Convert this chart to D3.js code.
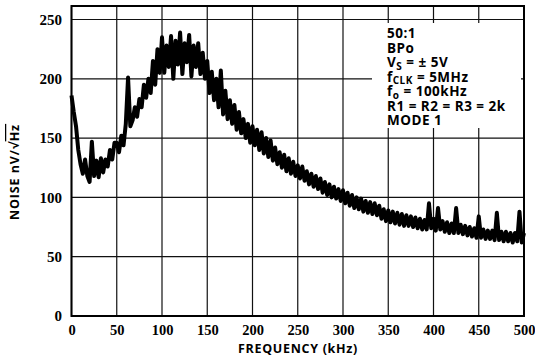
<!DOCTYPE html>
<html><head><meta charset="utf-8">
<script src="https://cdn.jsdelivr.net/npm/d3@7"></script>
<style>body{margin:0;background:#fff}svg{display:block}</style>
</head><body><svg id="c" width="535" height="361"></svg>
<script>
// ---- data ----
const freqStart = 0, freqEnd = 500, freqStep = 2.5; // kHz sampling grid
const noise = [
 186,172,160,140,128,120,132,118,113,147,118,131,117,133,121,132,126,140,132,146,
 146,138,152,144,162,201,160,165,176,168,183,176,195,184,200,188,215,195,225,205,
 235,205,228,210,236,200,232,212,239,204,230,214,237,202,228,210,230,204,222,200,
 215,188,206,182,200,176,207,170,190,166,182,162,178,157,172,154,166,150,162,146,
 160,144,157,140,155,137,150,134,148,131,142,128,138,125,136,122,133,120,130,118,
 127,116,126,114,122,111,120,109,118,107,116,104,113,102,111,100,109,99,107,97,
 106,95,104,93,102,91,100,90,99,88,97,87,96,86,95,85,93,82,90,80,
 89,79,88,78,87,77,86,76,85,76,84,75,83,74,82,73,81,73,95,74,
 82,72,91,73,80,71,79,70,78,70,91,70,77,69,76,68,75,67,74,66,
 84,66,73,65,72,65,72,64,87,64,71,63,71,63,70,62,70,63,88,62,70,64
];
const xTicks = [0,50,100,150,200,250,300,350,400,450,500];
const yTicks = [0,50,100,150,200,250];
const legendLines = [
  [["50:1",""]],
  [["BPo",""]],
  [["V",""],["S","sub"],[" =  ± 5V",""]],
  [["f",""],["CLK","sub"],[" = 5MHz",""]],
  [["f",""],["o","sub"],[" = 100kHz",""]],
  [["R1 = R2 = R3 = 2k",""]],
  [["MODE 1",""]]
];
const xTitle = "FREQUENCY (kHz)";

// ---- layout ----
const L = 71.5, R = 524, B = 316, T = 6;
const svg = d3.select("#c");
const x = d3.scaleLinear().domain([0,500]).range([L,R]);
const y = d3.scaleLinear().domain([0,250]).range([B,19.5]);
const freqs = d3.range(freqStart, freqEnd + freqStep/2, freqStep);
const pts = noise.map((v,i)=>[freqs[i], v]);

// grid
const grid = svg.append("g").attr("stroke","#111").attr("stroke-width",1.2);
grid.selectAll("line.v").data(xTicks).join("line")
  .attr("x1",d=>x(d)).attr("x2",d=>x(d)).attr("y1",T).attr("y2",B);
grid.selectAll("line.h").data(yTicks.filter(d=>d>0)).join("line")
  .attr("x1",L).attr("x2",R).attr("y1",d=>y(d)).attr("y2",d=>y(d));

// curve
svg.append("path").datum(pts)
  .attr("fill","none").attr("stroke","#000").attr("stroke-width",4)
  .attr("stroke-linejoin","round")
  .attr("d", d3.line().x(d=>x(d[0])).y(d=>y(d[1])));

// legend box
svg.append("rect").attr("x",372).attr("y",23).attr("width",149).attr("height",105).attr("fill","#fff");
const lg = svg.append("g").attr("font-family","'Open Sans', sans-serif").attr("font-weight",700)
  .attr("font-size",13.5).attr("letter-spacing",0.5).attr("fill","#000");
legendLines.forEach((parts,i)=>{
  const t = lg.append("text").attr("x",387).attr("y",38 + i*14.5);
  parts.forEach(([s,k],j)=>{
    const ts = t.append("tspan").text(s);
    if(k==="sub") ts.attr("font-size",10).attr("dy",2.5);
    else if(j>0) ts.attr("dy",-2.5);
  });
});

// frame
svg.append("rect").attr("x",L).attr("y",T).attr("width",R-L).attr("height",B-T)
  .attr("fill","none").attr("stroke","#000").attr("stroke-width",2);

// axes (labels only)
const ax = svg.append("g").attr("transform",`translate(0,${B})`)
  .call(d3.axisBottom(x).tickValues(xTicks).tickSize(0).tickPadding(0).tickFormat(d3.format("d")));
ax.select(".domain").remove();
ax.selectAll("text").attr("y",19).attr("dy",0)
  .attr("font-family","'Liberation Serif', serif").attr("font-weight",700).attr("font-size",14.5).attr("fill","#000");
const ay = svg.append("g").attr("transform",`translate(62,0)`)
  .call(d3.axisLeft(y).tickValues(yTicks).tickSize(0).tickPadding(0).tickFormat(d3.format("d")));
ay.select(".domain").remove();
ay.selectAll("text").attr("x",0)
  .attr("font-family","'Liberation Serif', serif").attr("font-weight",700).attr("font-size",15).attr("fill","#000");

// titles
svg.append("text").attr("x",298).attr("y",353).attr("text-anchor","middle")
  .attr("font-family","'Open Sans', sans-serif").attr("font-weight",700).attr("font-size",12.5)
  .attr("letter-spacing",0.7).text(xTitle);
const yt = svg.append("text").attr("transform","translate(19,172) rotate(-90)").attr("text-anchor","middle")
  .attr("font-family","'Open Sans', sans-serif").attr("font-weight",700).attr("font-size",12.5)
  .attr("letter-spacing",0.9);
yt.append("tspan").text("NOISE nV/√");
yt.append("tspan").style("text-decoration","overline").text("Hz");
</script></body></html>
